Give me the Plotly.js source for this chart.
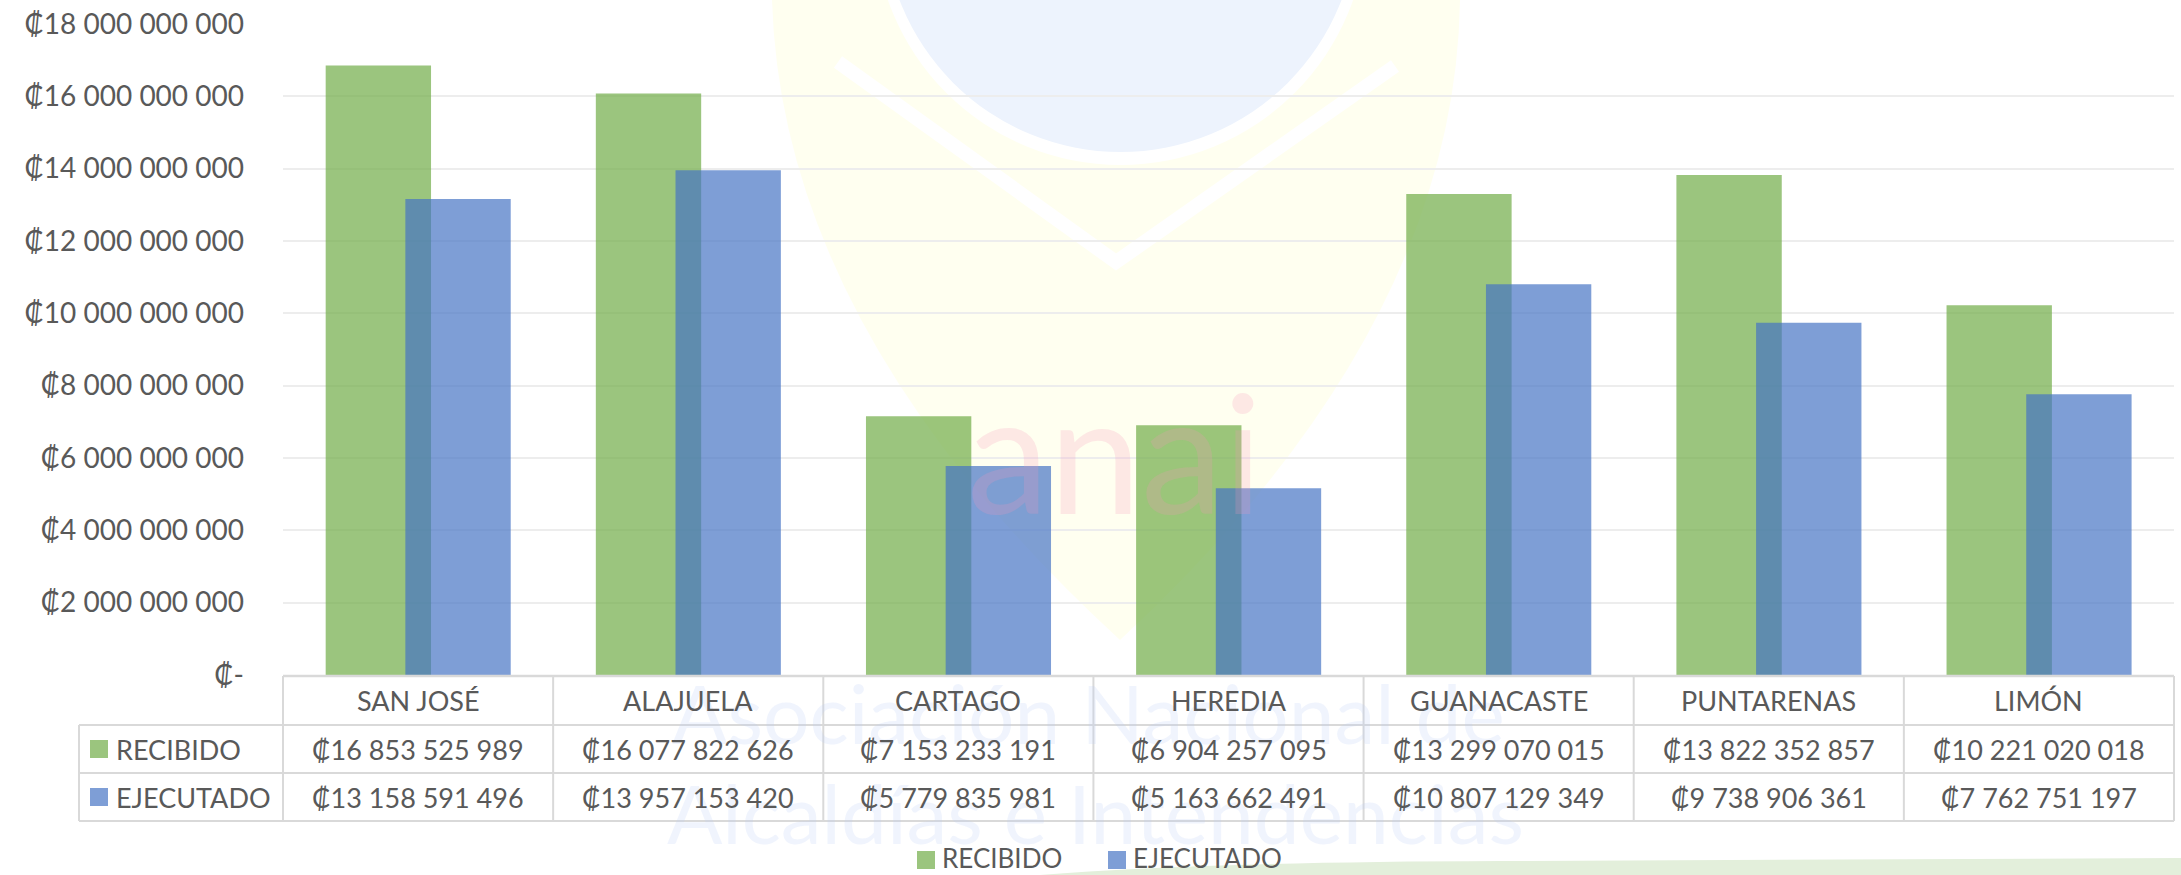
<!DOCTYPE html>
<html>
<head>
<meta charset="utf-8">
<script src="https://cdn.plot.ly/plotly-3.0.1.min.js"></script>
<style>
  html, body { margin: 0; padding: 0; background: #ffffff; }
  #chart { width: 2181px; height: 875px; }
</style>
</head>
<body>
<div id="chart"></div>
<script>
// ---------------- DATA ----------------
const categories = ['SAN JOSÉ', 'ALAJUELA', 'CARTAGO', 'HEREDIA', 'GUANACASTE', 'PUNTARENAS', 'LIMÓN'];
const recibido  = [16853525989, 16077822626, 7153233191, 6904257095, 13299070015, 13822352857, 10221020018];
const ejecutado = [13158591496, 13957153420, 5779835981, 5163662491, 10807129349, 9738906361, 7762751197];
const seriesNames = ['RECIBIDO', 'EJECUTADO'];
const yTickVals = [0, 2e9, 4e9, 6e9, 8e9, 10e9, 12e9, 14e9, 16e9, 18e9];
const yTickText = ['₡-', '₡2 000 000 000', '₡4 000 000 000', '₡6 000 000 000', '₡8 000 000 000',
                   '₡10 000 000 000', '₡12 000 000 000', '₡14 000 000 000', '₡16 000 000 000', '₡18 000 000 000'];

// ---------------- STYLE ----------------
const W = 2181, H = 875;
const M = { l: 283, r: 7, t: 24, b: 200 };
const PW = W - M.l - M.r, PH = H - M.t - M.b;
const X = px => (px - M.l) / PW;          // pixel -> paper x
const Y = py => (H - M.b - py) / PH;      // pixel -> paper y
const FONT = "Lato, 'Open Sans', 'DejaVu Sans', sans-serif";
const TXT = '#595959';
const GREEN = 'rgba(112,173,71,0.70)';
const BLUE = 'rgba(68,114,196,0.69)';
const LINE = '#D9D9D9';
const fmt = v => '₡' + String(v).replace(/\B(?=(\d{3})+(?!\d))/g, ' ');

const traces = [
  { type: 'bar', name: seriesNames[0], x: categories, y: recibido,
    marker: { color: GREEN, line: { width: 0 } }, width: 0.39, offset: -0.342, hoverinfo: 'skip' },
  { type: 'bar', name: seriesNames[1], x: categories, y: ejecutado,
    marker: { color: BLUE, line: { width: 0 } }, width: 0.39, offset: -0.047, hoverinfo: 'skip' }
];

const shapes = [];
const annotations = [];
const n = categories.length;

// ---- faint watermark (background logo) ----
shapes.push({ type: 'path', xref: 'paper', yref: 'paper', layer: 'below',
  path: `M ${X(772)},${Y(0)} L ${X(1460)},${Y(0)} Q ${X(1455)},${Y(330)} ${X(1120)},${Y(640)} Q ${X(782)},${Y(330)} ${X(772)},${Y(0)} Z`,
  fillcolor: '#FFFFF0', line: { width: 0 } });
shapes.push({ type: 'path', xref: 'paper', yref: 'paper', layer: 'below',
  path: `M ${X(838)},${Y(62)} L ${X(1116)},${Y(262)} L ${X(1395)},${Y(66)}`,
  line: { width: 14, color: '#FFFFFF' } });
shapes.push({ type: 'circle', xref: 'paper', yref: 'paper', layer: 'below',
  x0: X(874), x1: X(1367), y0: Y(165), y1: Y(-328),
  fillcolor: '#FFFFFF', line: { width: 0 } });
shapes.push({ type: 'circle', xref: 'paper', yref: 'paper', layer: 'below',
  x0: X(884), x1: X(1357), y0: Y(152), y1: Y(-320),
  fillcolor: '#EDF3FD', line: { width: 0 } });
shapes.push({ type: 'path', xref: 'paper', yref: 'paper', layer: 'below',
  path: `M ${X(1040)},${Y(875)} Q ${X(1200)},${Y(862)} ${X(1500)},${Y(861)} L ${X(2181)},${Y(858)} L ${X(2181)},${Y(875)} Z`,
  fillcolor: '#E3EFDB', line: { width: 0 } });
annotations.push({ xref: 'paper', yref: 'paper', x: X(1115), y: Y(450), text: 'anai', showarrow: false,
  font: { family: FONT, size: 165, color: 'rgba(247,150,185,0.22)' }, xanchor: 'center', yanchor: 'middle' });
annotations.push({ xref: 'paper', yref: 'paper', x: X(1088), y: Y(712), text: 'Asociación Nacional de', showarrow: false,
  font: { family: FONT, size: 82, color: 'rgba(185,205,245,0.22)' }, xanchor: 'center', yanchor: 'middle' });
annotations.push({ xref: 'paper', yref: 'paper', x: X(1095), y: Y(812), text: 'Alcaldías e Intendencias', showarrow: false,
  font: { family: FONT, size: 82, color: 'rgba(185,205,245,0.22)' }, xanchor: 'center', yanchor: 'middle' });

// ---- data table lines ----
const hl = (py, x0px, w) => shapes.push({ type: 'line', xref: 'paper', yref: 'paper',
  x0: X(x0px), x1: 1, y0: Y(py), y1: Y(py), line: { color: LINE, width: w } });
hl(676, M.l, 2.5);
hl(725, 79, 2);
hl(773, 79, 2);
hl(821, 79, 2);
for (let i = 0; i <= n; i++) {
  shapes.push({ type: 'line', xref: 'paper', yref: 'paper', x0: i / n, x1: i / n,
    y0: Y(676), y1: Y(821), line: { color: LINE, width: 2 } });
}
shapes.push({ type: 'line', xref: 'paper', yref: 'paper', x0: X(79), x1: X(79),
  y0: Y(725), y1: Y(821), line: { color: LINE, width: 2 } });

// ---- table texts ----
const tf = { family: FONT, size: 27, color: TXT };
categories.forEach((c, i) => {
  annotations.push({ xref: 'x', yref: 'paper', x: c, y: Y(700), text: c, showarrow: false, font: tf, xanchor: 'center', yanchor: 'middle' });
  annotations.push({ xref: 'x', yref: 'paper', x: c, y: Y(749), text: fmt(recibido[i]), showarrow: false, font: tf, xanchor: 'center', yanchor: 'middle' });
  annotations.push({ xref: 'x', yref: 'paper', x: c, y: Y(797), text: fmt(ejecutado[i]), showarrow: false, font: tf, xanchor: 'center', yanchor: 'middle' });
});
// table row headers with keys
[[GREEN, seriesNames[0], 749], [BLUE, seriesNames[1], 797]].forEach(([col, name, cy]) => {
  shapes.push({ type: 'rect', xref: 'paper', yref: 'paper', x0: X(90), x1: X(108), y0: Y(cy - 9), y1: Y(cy + 9),
    fillcolor: col, line: { width: 0 } });
  annotations.push({ xref: 'paper', yref: 'paper', x: X(114), y: Y(cy), text: name, showarrow: false, font: tf, xanchor: 'left', yanchor: 'middle' });
});

// ---- bottom legend ----
const lf = { family: FONT, size: 26, color: TXT };
[[GREEN, seriesNames[0], 917], [BLUE, seriesNames[1], 1108]].forEach(([col, name, kx]) => {
  shapes.push({ type: 'rect', xref: 'paper', yref: 'paper', x0: X(kx), x1: X(kx + 18), y0: Y(851), y1: Y(869),
    fillcolor: col, line: { width: 0 } });
  annotations.push({ xref: 'paper', yref: 'paper', x: X(kx + 24), y: Y(858), text: name, showarrow: false,
    font: lf, xanchor: 'left', yanchor: 'middle', borderpad: 0 });
});

const layout = {
  width: W, height: H,
  margin: M,
  paper_bgcolor: '#FFFFFF',
  plot_bgcolor: 'rgba(0,0,0,0)',
  barmode: 'overlay',
  showlegend: false,
  font: { family: FONT, color: TXT },
  xaxis: { type: 'category', range: [-0.5, n - 0.5], showticklabels: false, showgrid: false,
           zeroline: false, showline: false, ticks: '' },
  yaxis: { range: [0, 18e9], tickmode: 'array', tickvals: yTickVals, ticktext: yTickText,
           showgrid: true, gridcolor: '#EDEDED', gridwidth: 2, zeroline: false, showline: false,
           ticks: '', tickfont: { family: FONT, size: 28, color: TXT }, ticklabelstandoff: 38 },
  shapes: shapes,
  annotations: annotations
};

Plotly.newPlot('chart', traces, layout, { displayModeBar: false, staticPlot: true });
</script>
</body>
</html>
